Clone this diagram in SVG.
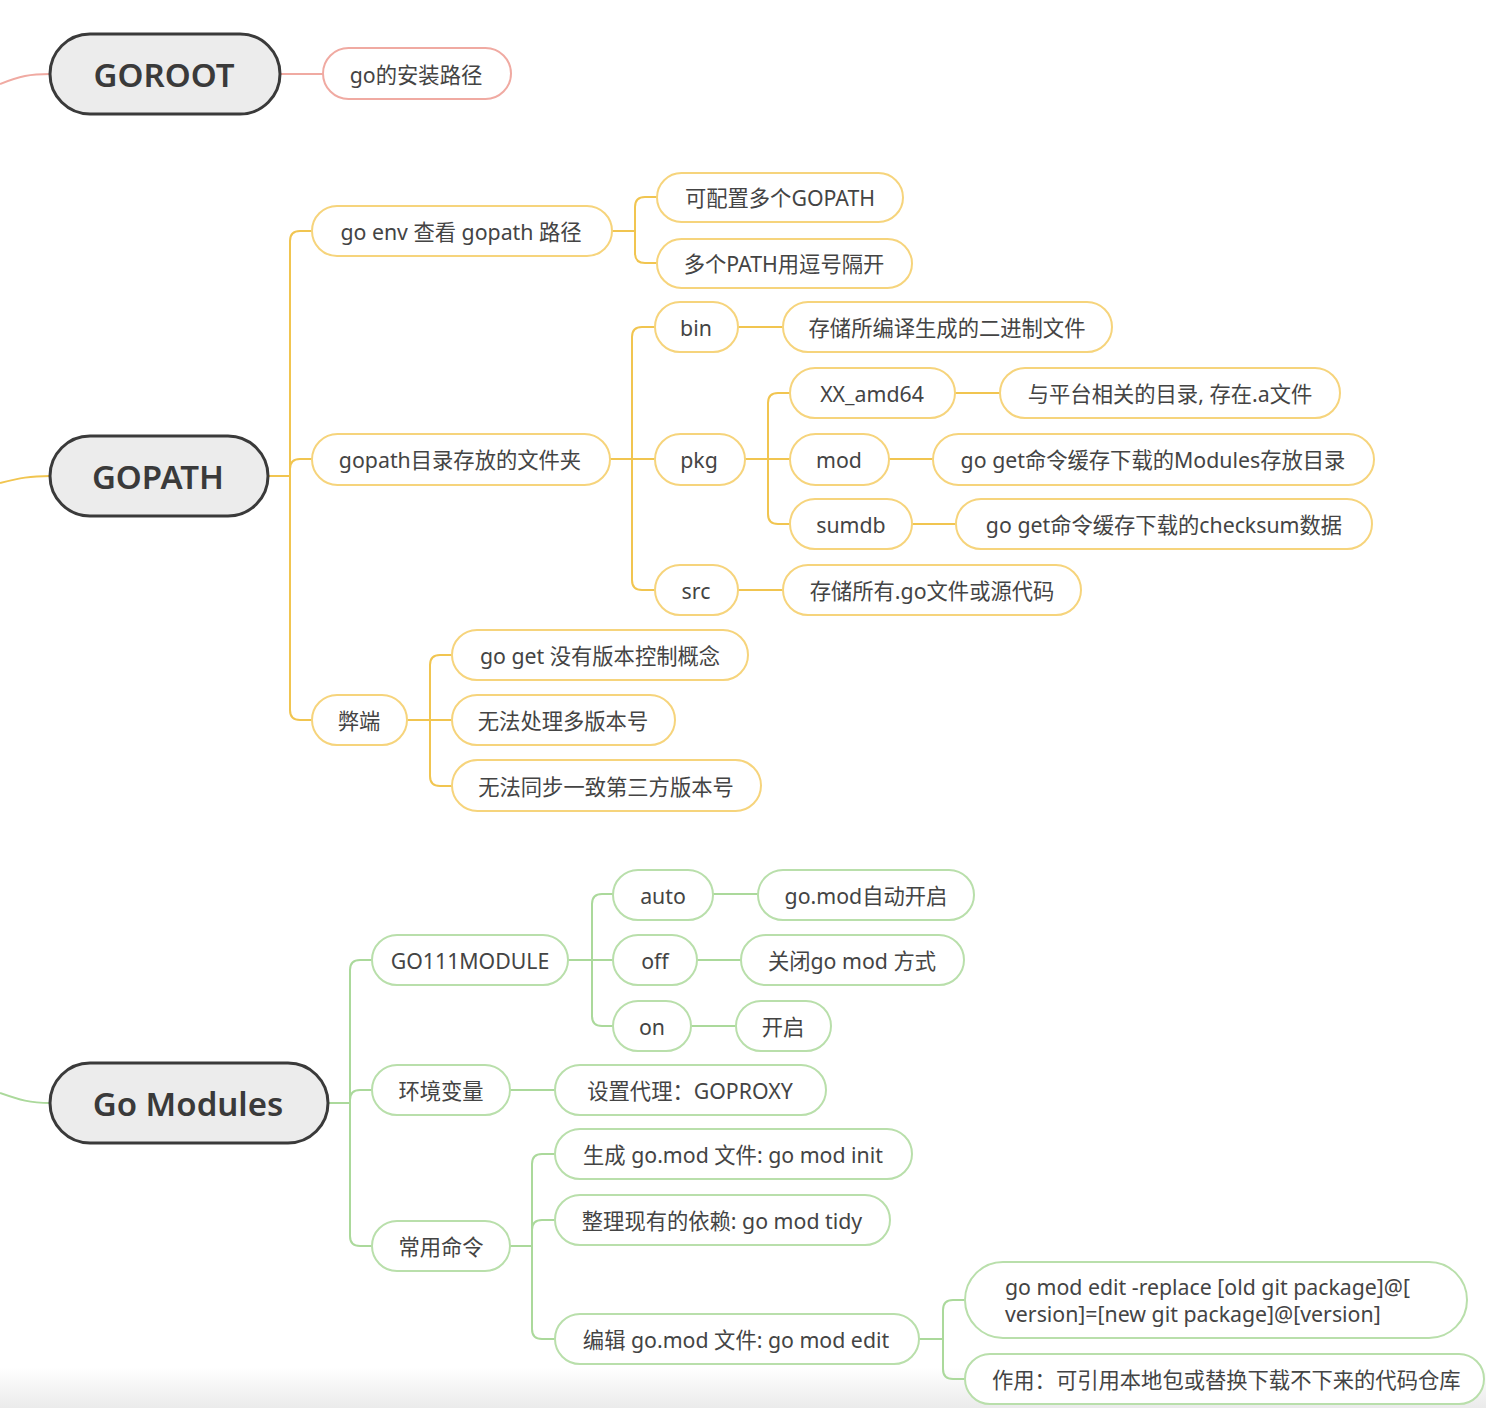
<svg xmlns="http://www.w3.org/2000/svg" width="1486" height="1408" viewBox="0 0 1486 1408">
<defs>
<linearGradient id="bottomShade" x1="0" y1="0" x2="0" y2="1">
<stop offset="0" stop-color="#ffffff"/>
<stop offset="1" stop-color="#ebebeb"/>
</linearGradient>
<style>
.root rect{fill:#ececec;stroke:#3a3a3a;stroke-width:3}
.root text{font-family:"Noto Sans","Noto Sans CJK SC",sans-serif;font-size:33px;font-weight:600;fill:#3a3a3a;text-anchor:middle;dominant-baseline:central}
.n rect{fill:#ffffff;stroke-width:2}
.n text{font-family:"Noto Sans","Noto Sans CJK SC",sans-serif;font-size:21.3px;fill:#444;text-anchor:middle;dominant-baseline:central}
.red rect{stroke:#f0aaa2}
.yel rect{stroke:#f6d47c}
.grn rect{stroke:#b9dfab}
.conn path{fill:none;stroke-width:2}
.cr{stroke:#f0aaa2}
.cy{stroke:#f1c550}
.cg{stroke:#abd99b}
</style>
</defs>
<rect x="0" y="0" width="1486" height="1408" fill="#ffffff"/>
<rect x="0" y="1368" width="1486" height="40" fill="url(#bottomShade)"/>

<g id="connectors" class="conn">
<path class="cr" d="M0 84 C20 76 30 74 50 74"/>
<path class="cr" d="M280 74 H323"/>

<path class="cy" d="M0 483 C20 478 30 476 50 476"/>
<path class="cy" d="M268 476 H290"/>
<path class="cy" d="M290 476 V241 Q290 231 300 231 H312"/>
<path class="cy" d="M290 476 V469 Q290 459 300 459 H312"/>
<path class="cy" d="M290 476 V710 Q290 720 300 720 H312"/>
<path class="cy" d="M612 231 H635"/>
<path class="cy" d="M635 231 V207 Q635 197 645 197 H657"/>
<path class="cy" d="M635 231 V253 Q635 263 645 263 H657"/>
<path class="cy" d="M610 459 H655"/>
<path class="cy" d="M632 459 V337 Q632 327 642 327 H655"/>
<path class="cy" d="M632 459 V580 Q632 590 642 590 H655"/>
<path class="cy" d="M738 327 H783"/>
<path class="cy" d="M738 590 H783"/>
<path class="cy" d="M745 459 H790"/>
<path class="cy" d="M768 459 V403 Q768 393 778 393 H790"/>
<path class="cy" d="M768 459 V514 Q768 524 778 524 H790"/>
<path class="cy" d="M955 393 H1000"/>
<path class="cy" d="M889 459 H933"/>
<path class="cy" d="M912 524 H956"/>
<path class="cy" d="M407 720 H452"/>
<path class="cy" d="M430 720 V665 Q430 655 440 655 H452"/>
<path class="cy" d="M430 720 V776 Q430 786 440 786 H452"/>

<path class="cg" d="M0 1093 C20 1100 30 1103 50 1103"/>
<path class="cg" d="M328 1103 H350"/>
<path class="cg" d="M350 1103 V970 Q350 960 360 960 H372"/>
<path class="cg" d="M350 1103 V1100 Q350 1090 360 1090 H372"/>
<path class="cg" d="M350 1103 V1236 Q350 1246 360 1246 H372"/>
<path class="cg" d="M568 960 H613"/>
<path class="cg" d="M592 960 V904 Q592 894 602 894 H613"/>
<path class="cg" d="M592 960 V1016 Q592 1026 602 1026 H613"/>
<path class="cg" d="M713 894 H758"/>
<path class="cg" d="M697 960 H741"/>
<path class="cg" d="M691 1026 H736"/>
<path class="cg" d="M510 1090 H555"/>
<path class="cg" d="M510 1246 H532"/>
<path class="cg" d="M532 1246 V1164 Q532 1154 542 1154 H555"/>
<path class="cg" d="M532 1246 V1230 Q532 1220 542 1220 H555"/>
<path class="cg" d="M532 1246 V1329 Q532 1339 542 1339 H555"/>
<path class="cg" d="M919 1339 H943"/>
<path class="cg" d="M943 1339 V1310 Q943 1300 953 1300 H965"/>
<path class="cg" d="M943 1339 V1369 Q943 1379 953 1379 H965"/>
</g>

<g id="goroot" class="root"><rect x="50" y="34" width="230" height="80" rx="40"/><text x="164" y="74">GOROOT</text></g>
<g id="goroot-path" class="n red"><rect x="323" y="48" width="188" height="51" rx="25.5"/><text x="416" y="74">go的安装路径</text></g>

<g id="gopath" class="root"><rect x="50" y="436" width="218" height="80" rx="40"/><text x="158" y="476">GOPATH</text></g>
<g id="goenv" class="n yel"><rect x="312" y="206" width="300" height="50" rx="25"/><text x="461" y="231">go env 查看 gopath 路径</text></g>
<g id="multi-gopath" class="n yel"><rect x="657" y="173" width="246" height="49" rx="24.5"/><text x="780" y="197">可配置多个GOPATH</text></g>
<g id="path-sep" class="n yel"><rect x="657" y="239" width="255" height="49" rx="24.5"/><text x="784" y="263">多个PATH用逗号隔开</text></g>
<g id="gopath-dir" class="n yel"><rect x="312" y="434" width="298" height="51" rx="25.5"/><text x="460" y="459">gopath目录存放的文件夹</text></g>
<g id="bin" class="n yel"><rect x="655" y="302" width="83" height="50" rx="25"/><text x="696" y="327">bin</text></g>
<g id="bin-desc" class="n yel"><rect x="783" y="302" width="329" height="50" rx="25"/><text x="947" y="327">存储所编译生成的二进制文件</text></g>
<g id="pkg" class="n yel"><rect x="655" y="434" width="90" height="51" rx="25.5"/><text x="699" y="459">pkg</text></g>
<g id="xxamd64" class="n yel"><rect x="790" y="368" width="165" height="50" rx="25"/><text x="872" y="393">XX_amd64</text></g>
<g id="xxamd64-desc" class="n yel"><rect x="1000" y="368" width="340" height="50" rx="25"/><text x="1170" y="393">与平台相关的目录, 存在.a文件</text></g>
<g id="mod" class="n yel"><rect x="790" y="434" width="99" height="51" rx="25.5"/><text x="839" y="459">mod</text></g>
<g id="mod-desc" class="n yel"><rect x="933" y="434" width="441" height="51" rx="25.5"/><text x="1153" y="459">go get命令缓存下载的Modules存放目录</text></g>
<g id="sumdb" class="n yel"><rect x="790" y="499" width="122" height="50" rx="25"/><text x="851" y="524">sumdb</text></g>
<g id="sumdb-desc" class="n yel"><rect x="956" y="499" width="416" height="50" rx="25"/><text x="1164" y="524">go get命令缓存下载的checksum数据</text></g>
<g id="src" class="n yel"><rect x="655" y="565" width="83" height="50" rx="25"/><text x="696" y="590">src</text></g>
<g id="src-desc" class="n yel"><rect x="783" y="565" width="298" height="50" rx="25"/><text x="932" y="590">存储所有.go文件或源代码</text></g>
<g id="drawbacks" class="n yel"><rect x="312" y="695" width="95" height="50" rx="25"/><text x="359" y="720">弊端</text></g>
<g id="no-version" class="n yel"><rect x="452" y="630" width="296" height="50" rx="25"/><text x="600" y="655">go get 没有版本控制概念</text></g>
<g id="multi-version" class="n yel"><rect x="452" y="695" width="223" height="50" rx="25"/><text x="563" y="720">无法处理多版本号</text></g>
<g id="sync-version" class="n yel"><rect x="452" y="760" width="309" height="51" rx="25.5"/><text x="606" y="786">无法同步一致第三方版本号</text></g>

<g id="gomodules" class="root"><rect x="50" y="1063" width="278" height="80" rx="40"/><text x="188" y="1103">Go Modules</text></g>
<g id="go111module" class="n grn"><rect x="372" y="935" width="196" height="50" rx="25"/><text x="470" y="960">GO111MODULE</text></g>
<g id="auto" class="n grn"><rect x="613" y="870" width="100" height="50" rx="25"/><text x="663" y="895">auto</text></g>
<g id="auto-desc" class="n grn"><rect x="758" y="870" width="216" height="50" rx="25"/><text x="866" y="895">go.mod自动开启</text></g>
<g id="off" class="n grn"><rect x="613" y="935" width="84" height="50" rx="25"/><text x="655" y="960">off</text></g>
<g id="off-desc" class="n grn"><rect x="741" y="935" width="223" height="50" rx="25"/><text x="852" y="960">关闭go mod 方式</text></g>
<g id="on" class="n grn"><rect x="613" y="1001" width="78" height="50" rx="25"/><text x="652" y="1026">on</text></g>
<g id="on-desc" class="n grn"><rect x="736" y="1001" width="95" height="50" rx="25"/><text x="783" y="1026">开启</text></g>
<g id="envvar" class="n grn"><rect x="372" y="1065" width="138" height="50" rx="25"/><text x="441" y="1090">环境变量</text></g>
<g id="goproxy" class="n grn"><rect x="555" y="1065" width="271" height="50" rx="25"/><text x="690" y="1090">设置代理：GOPROXY</text></g>
<g id="commands" class="n grn"><rect x="372" y="1221" width="138" height="50" rx="25"/><text x="441" y="1246">常用命令</text></g>
<g id="mod-init" class="n grn"><rect x="555" y="1129" width="357" height="50" rx="25"/><text x="733" y="1154">生成 go.mod 文件: go mod init</text></g>
<g id="mod-tidy" class="n grn"><rect x="555" y="1195" width="335" height="50" rx="25"/><text x="722" y="1220">整理现有的依赖: go mod tidy</text></g>
<g id="mod-edit" class="n grn"><rect x="555" y="1314" width="364" height="50" rx="25"/><text x="736" y="1339">编辑 go.mod 文件: go mod edit</text></g>
<g id="mod-replace" class="n grn"><rect x="965" y="1262" width="502" height="76" rx="38"/><text x="1005" y="1286" style="text-anchor:start">go mod edit -replace [old git package]@[</text><text x="1005" y="1313" style="text-anchor:start">version]=[new git package]@[version]</text></g>
<g id="replace-usage" class="n grn"><rect x="965" y="1354" width="519" height="50" rx="25"/><text x="992" y="1379" style="text-anchor:start">作用：可引用本地包或替换下载不下来的代码仓库</text></g>
</svg>
